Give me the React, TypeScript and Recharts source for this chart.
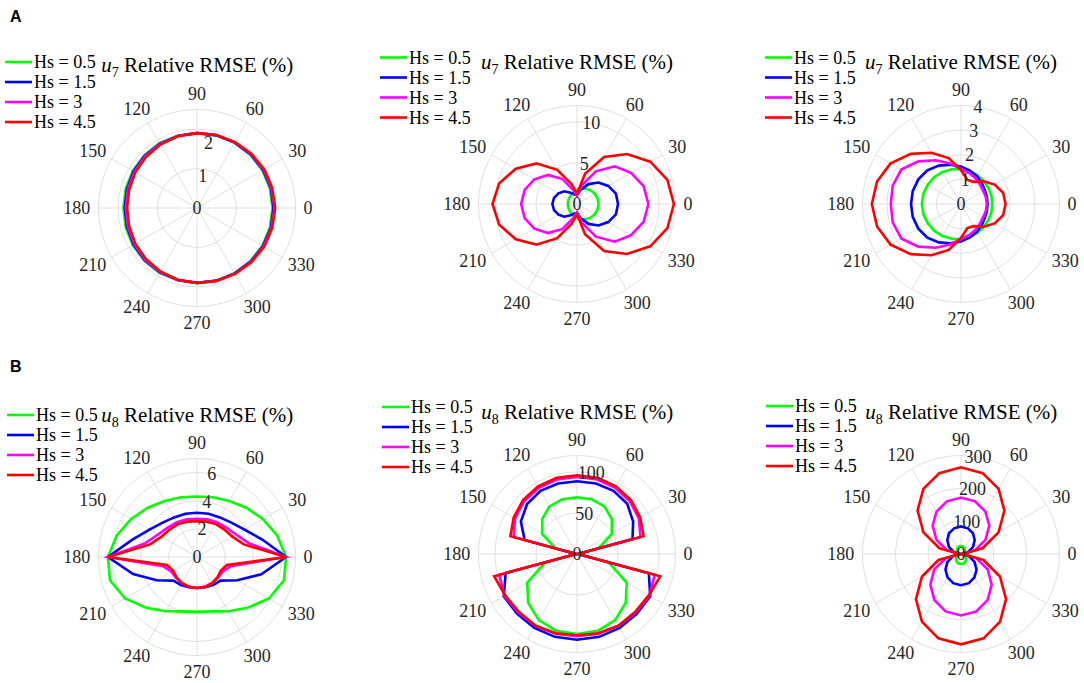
import { PolarAngleAxis, PolarGrid, PolarRadiusAxis, Radar, RadarChart } from "recharts";

// wave direction (deg), 15 deg steps
const angles = [0, 15, 30, 45, 60, 75, 90, 105, 120, 135, 150, 165, 180, 195, 210, 225, 240, 255, 270, 285, 300, 315, 330, 345];
const spokeAngles = [0, 30, 60, 90, 120, 150, 180, 210, 240, 270, 300, 330];

const seriesNames = ["Hs = 0.5", "Hs = 1.5", "Hs = 3", "Hs = 4.5"];
const seriesColors = ["#00ff00", "#0000ff", "#ff00ff", "#ff0000"];

// A: u7 relative RMSE (%)
const a1Hs05 = [2.30, 2.30, 2.30, 2.30, 2.29, 2.29, 2.29, 2.28, 2.28, 2.27, 2.26, 2.25, 2.24, 2.25, 2.26, 2.27, 2.28, 2.28, 2.29, 2.29, 2.29, 2.30, 2.30, 2.30];
const a1Hs15 = [2.33, 2.33, 2.32, 2.31, 2.30, 2.29, 2.28, 2.27, 2.26, 2.25, 2.23, 2.21, 2.20, 2.21, 2.23, 2.25, 2.26, 2.27, 2.28, 2.29, 2.30, 2.31, 2.32, 2.33];
const a1Hs3 = [2.36, 2.35, 2.34, 2.33, 2.31, 2.30, 2.28, 2.27, 2.25, 2.23, 2.20, 2.18, 2.17, 2.18, 2.20, 2.23, 2.25, 2.27, 2.28, 2.30, 2.31, 2.33, 2.34, 2.35];
const a1Hs45 = [2.38, 2.37, 2.36, 2.34, 2.32, 2.30, 2.28, 2.26, 2.23, 2.20, 2.17, 2.14, 2.13, 2.14, 2.17, 2.20, 2.23, 2.26, 2.28, 2.30, 2.32, 2.34, 2.36, 2.37];

const a2Hs05 = [2.62, 2.60, 2.50, 2.35, 2.15, 1.94, 1.72, 1.50, 1.35, 1.24, 1.16, 1.13, 1.12, 1.13, 1.16, 1.24, 1.35, 1.50, 1.72, 1.94, 2.15, 2.35, 2.50, 2.60];
const a2Hs15 = [5.0, 4.9, 4.4, 3.7, 2.8, 1.8, 1.1, 1.2, 1.6, 2.2, 2.6, 2.9, 3.0, 2.9, 2.6, 2.2, 1.6, 1.2, 1.1, 1.8, 2.8, 3.7, 4.4, 4.9];
const a2Hs3 = [8.7, 8.4, 7.6, 6.5, 4.6, 2.4, 1.0, 1.8, 3.5, 5.0, 6.0, 6.6, 6.8, 6.6, 6.0, 5.0, 3.5, 1.8, 1.0, 2.4, 4.6, 6.5, 7.6, 8.4];
const a2Hs45 = [11.8, 11.4, 10.3, 8.6, 6.6, 3.8, 1.25, 2.5, 4.8, 7.0, 8.6, 9.8, 10.3, 9.8, 8.6, 7.0, 4.8, 2.5, 1.25, 3.8, 6.6, 8.6, 10.3, 11.4];

const a3Hs05 = [1.27, 1.28, 1.29, 1.31, 1.34, 1.38, 1.42, 1.46, 1.50, 1.54, 1.56, 1.58, 1.59, 1.58, 1.56, 1.54, 1.50, 1.46, 1.42, 1.38, 1.34, 1.31, 1.29, 1.28];
const a3Hs15 = [1.08, 1.09, 1.12, 1.20, 1.30, 1.40, 1.52, 1.65, 1.80, 1.93, 2.00, 2.03, 2.03, 2.03, 2.00, 1.93, 1.80, 1.65, 1.52, 1.40, 1.30, 1.20, 1.12, 1.09];
const a3Hs3 = [1.05, 1.05, 1.05, 1.10, 1.20, 1.30, 1.42, 1.70, 2.05, 2.45, 2.80, 2.87, 2.85, 2.87, 2.80, 2.45, 2.05, 1.70, 1.42, 1.30, 1.20, 1.10, 1.05, 1.05];
const a3Hs45 = [1.81, 1.77, 1.58, 1.30, 1.04, 1.01, 1.38, 1.93, 2.40, 2.88, 3.30, 3.53, 3.62, 3.53, 3.30, 2.88, 2.40, 1.93, 1.38, 1.01, 1.04, 1.30, 1.58, 1.77];

// B: u8 relative RMSE (%)
const b1Hs05 = [6.33, 5.90, 5.40, 4.95, 4.60, 4.40, 4.30, 4.40, 4.60, 4.95, 5.40, 5.90, 6.33, 6.40, 5.90, 5.10, 4.45, 4.00, 3.90, 4.00, 4.45, 5.10, 5.90, 6.40];
const b1Hs15 = [6.33, 4.80, 3.90, 3.45, 3.25, 3.18, 3.14, 3.18, 3.25, 3.45, 3.90, 4.75, 6.33, 4.70, 3.30, 2.37, 2.30, 2.22, 2.20, 2.22, 2.30, 2.37, 3.30, 4.73];
const b1Hs3 = [6.33, 3.80, 3.20, 2.95, 2.85, 2.78, 2.72, 2.78, 2.85, 2.95, 3.20, 3.80, 6.33, 2.50, 2.10, 2.10, 2.15, 2.20, 2.20, 2.20, 2.15, 2.10, 2.10, 2.50];
const b1Hs45 = [6.33, 3.45, 2.90, 2.75, 2.70, 2.60, 2.55, 2.60, 2.70, 2.75, 2.90, 3.45, 6.33, 2.20, 1.95, 2.05, 2.15, 2.20, 2.20, 2.20, 2.15, 2.05, 1.95, 2.20];

const b2Hs05 = [1, 27, 49, 60, 67, 69, 69, 69, 67, 60, 49, 27, 1, 40, 70, 84, 93, 97, 97.5, 97, 93, 84, 70, 40];
const b2Hs15 = [1, 70, 79, 86.5, 89, 89, 88.6, 89, 89, 86, 79, 66, 1, 90, 103, 103, 104, 104.5, 104.5, 104.5, 104, 103, 103, 90.6];
const b2Hs3 = [1, 80, 87, 91, 93, 94, 94, 94, 93, 91, 87, 80, 1, 98, 102, 101, 101, 100.5, 100, 100.5, 101, 101, 102, 98];
const b2Hs45 = [1, 84, 89, 93, 95, 96, 96, 96, 95, 93, 89, 84, 1, 104.5, 101, 100, 101, 100, 99, 100, 101, 100, 101, 105];

const b3Hs05 = [1, 6, 12, 17, 21, 24, 24.5, 24, 21, 17, 12, 6, 1, 8, 15.5, 22, 27, 30, 31, 30, 27, 22, 15.5, 8];
const b3Hs15 = [2, 22, 42, 59, 73, 81, 84, 81, 73, 59, 42, 22, 2, 25, 47.5, 67, 82, 92, 95, 92, 82, 67, 47.5, 25];
const b3Hs3 = [2, 45, 86, 122, 149, 166, 172, 166, 149, 122, 86, 45, 2, 48, 94, 132, 162, 181, 187, 181, 162, 132, 94, 48];
const b3Hs45 = [3, 68, 132, 187, 229, 255, 264, 255, 229, 187, 132, 68, 3, 71, 137, 194, 238, 266, 275, 266, 238, 194, 137, 71];

const CHART_W = 340;
const CHART_H = 330;
const CX = 170;
const CY = 170;
const OUTER = 98.5;

const panels = [
  { key: "a1", sub: "7", max: 2.5, tickCount: 6, rTicks: [0, 1, 2], series: [a1Hs05, a1Hs15, a1Hs3, a1Hs45], cx: 197.3, cy: 207.5, legendX: 5, legendY: 62 },
  { key: "a2", sub: "7", max: 12, tickCount: 13, rTicks: [0, 5, 10], series: [a2Hs05, a2Hs15, a2Hs3, a2Hs45], cx: 577, cy: 204.3, legendX: 380, legendY: 57.5 },
  { key: "a3", sub: "7", max: 4, tickCount: 5, rTicks: [0, 1, 2, 3, 4], series: [a3Hs05, a3Hs15, a3Hs3, a3Hs45], cx: 961, cy: 204.3, legendX: 765, legendY: 57.5 },
  { key: "b1", sub: "8", max: 7, tickCount: 8, rTicks: [0, 2, 4, 6], series: [b1Hs05, b1Hs15, b1Hs3, b1Hs45], cx: 197.3, cy: 557.3, legendX: 7, legendY: 415 },
  { key: "b2", sub: "8", max: 120, tickCount: 13, rTicks: [0, 50, 100], series: [b2Hs05, b2Hs15, b2Hs3, b2Hs45], cx: 577.3, cy: 554, legendX: 382, legendY: 407 },
  { key: "b3", sub: "8", max: 300, tickCount: 4, rTicks: [0, 100, 200, 300], series: [b3Hs05, b3Hs15, b3Hs3, b3Hs45], cx: 961.3, cy: 554, legendX: 766, legendY: 406 },
];

const serif = "'Liberation Serif', 'DejaVu Serif', serif";
const tickColor = "#262626";

// recharts runs the default (clockwise) direction, so feed angles in descending order
const order = [0, 23, 22, 21, 20, 19, 18, 17, 16, 15, 14, 13, 12, 11, 10, 9, 8, 7, 6, 5, 4, 3, 2, 1];

const AngleTick = (props: any) => {
  const { x, y, payload } = props;
  const a = Number(payload.value);
  if (a % 30 !== 0) return <g />;
  const rad = (a * Math.PI) / 180;
  const label = String(a);
  const tx = x + Math.cos(rad) * label.length * 4.6;
  const ty = y - Math.sin(rad) * 8;
  return (
    <text x={tx} y={ty} textAnchor="middle" dominantBaseline="central" style={{ fontFamily: serif }} fontSize={18} fill={tickColor}>
      {label}
    </text>
  );
};

const radiusTick = (shown: number[]) => (props: any) => {
  const { x, y, payload } = props;
  if (!shown.some((v) => Math.abs(v - payload.value) < 1e-6)) return <g />;
  return (
    <text x={x} y={y} textAnchor="middle" dominantBaseline="central" style={{ fontFamily: serif }} fontSize={18} fill={tickColor}>
      {payload.value}
    </text>
  );
};

function Panel({ p }: { p: (typeof panels)[number] }) {
  const data = order.map((i) => ({
    angle: angles[i],
    s0: p.series[0][i],
    s1: p.series[1][i],
    s2: p.series[2][i],
    s3: p.series[3][i],
  }));
  const circles = [...p.rTicks.filter((t) => t > 0 && t < p.max), p.max].map((t) => (t / p.max) * OUTER);

  return (
    <div style={{ position: "absolute", left: p.cx - CX, top: p.cy - CY }}>
      <RadarChart
        width={CHART_W}
        height={CHART_H}
        cx={CX}
        cy={CY}
        outerRadius={OUTER}
        startAngle={0}
        endAngle={-360}
        data={data}
        margin={{ top: 0, right: 0, bottom: 0, left: 0 }}
      >
        <PolarGrid gridType="circle" polarAngles={spokeAngles} polarRadius={circles} stroke="#e0e0e0" strokeWidth={1} />
        <PolarAngleAxis dataKey="angle" tick={AngleTick} tickLine={false} axisLine={false} tickSize={8} />
        <PolarRadiusAxis
          angle={80}
          type="number"
          domain={[0, p.max]}
          tickCount={p.tickCount}
          allowDataOverflow
          axisLine={false}
          tick={radiusTick(p.rTicks)}
        />
        {seriesNames.map((name, i) => (
          <Radar
            key={name}
            name={name}
            dataKey={`s${i}`}
            stroke={seriesColors[i]}
            strokeWidth={2.6}
            fill="none"
            fillOpacity={0}
            dot={false}
            isAnimationActive={false}
          />
        ))}
      </RadarChart>
    </div>
  );
}

export default function App() {
  return (
    <div style={{ position: "absolute", left: 0, top: 0, width: 1084, height: 683, overflow: "hidden", background: "#fff" }}>
      {panels.map((p) => (
        <Panel key={p.key} p={p} />
      ))}
      <svg width={1084} height={683} style={{ position: "absolute", left: 0, top: 0, pointerEvents: "none" }}>
        <text x={10} y={22} style={{ fontFamily: "'Liberation Sans', Arial, sans-serif" }} fontWeight="bold" fontSize={16}>A</text>
        <text x={10} y={372} style={{ fontFamily: "'Liberation Sans', Arial, sans-serif" }} fontWeight="bold" fontSize={16}>B</text>
        {panels.map((p) => (
          <g key={p.key}>
            <text x={p.cx} y={p.cy - 135.5} textAnchor="middle" style={{ fontFamily: serif }} fontSize={21} fill="#000">
              <tspan fontStyle="italic">u</tspan>
              <tspan fontSize={14} dy={5}>{p.sub}</tspan>
              <tspan dy={-5}> Relative RMSE (%)</tspan>
            </text>
            {seriesNames.map((name, i) => {
              const y = p.legendY + i * 20;
              return (
                <g key={name}>
                  <line x1={p.legendX} x2={p.legendX + 27} y1={y} y2={y} stroke={seriesColors[i]} strokeWidth={2.6} />
                  <text x={p.legendX + 29} y={y} dominantBaseline="central" style={{ fontFamily: serif }} fontSize={18} fill="#000">
                    {name}
                  </text>
                </g>
              );
            })}
          </g>
        ))}
      </svg>
    </div>
  );
}
